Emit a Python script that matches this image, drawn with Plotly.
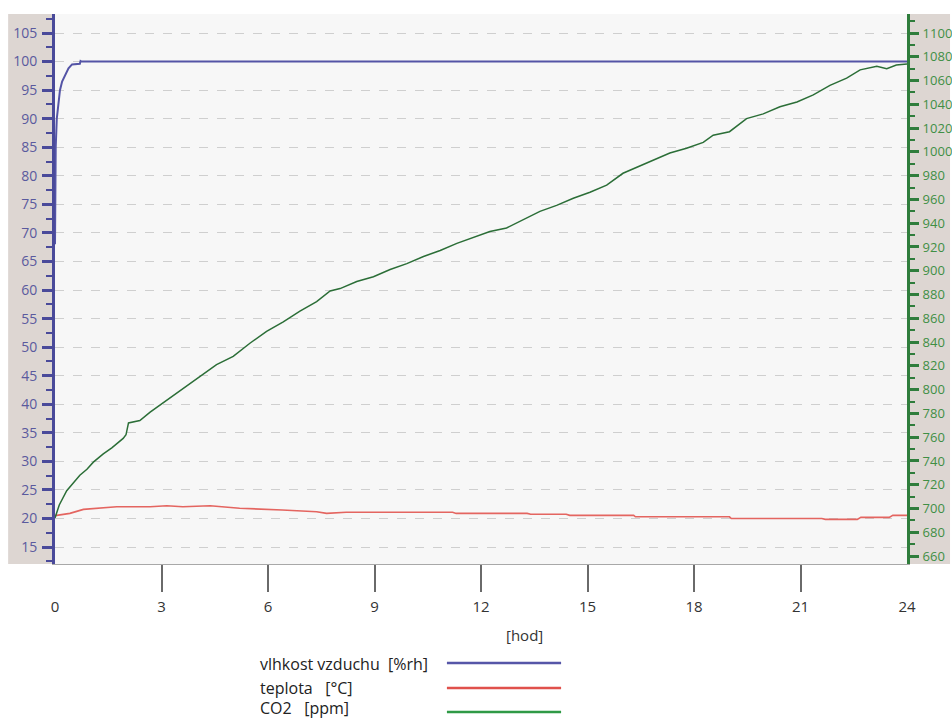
import plotly.graph_objects as go

# --- measured series -------------------------------------------------------
# relative humidity [%rh]
rh_t = [0.0, 0.02, 0.05, 0.1, 0.14, 0.2, 0.28, 0.38, 0.48, 0.6, 0.7, 0.72, 0.75, 24.0]
rh_v = [68.0, 85.0, 90.0, 93.0, 95.0, 96.5, 97.5, 98.8, 99.5, 99.6, 99.6, 100.1, 100.0, 100.0]

# temperature [°C]
temp_t = [0.0, 0.42, 0.8, 1.27, 1.74, 2.68, 3.15, 3.6, 4.37, 4.7, 5.2, 6.4, 7.37, 7.65,
          8.2, 9.7, 11.2, 11.3, 13.3, 13.4, 14.4, 14.5, 16.3, 16.35, 19.0, 19.05,
          21.6, 21.7, 22.6, 22.7, 23.5, 23.6, 24.0]
temp_v = [20.5, 20.9, 21.6, 21.9, 22.07, 22.07, 22.25, 22.07, 22.25, 22.07, 21.8, 21.5,
          21.2, 20.9, 21.1, 21.1, 21.1, 20.9, 20.9, 20.74, 20.74, 20.56, 20.56, 20.3,
          20.3, 20.0, 20.0, 19.86, 19.86, 20.2, 20.2, 20.56, 20.56]

# CO2 concentration [ppm]
co2_t = [0.0, 0.12, 0.33, 0.5, 0.7, 0.9, 1.08, 1.36, 1.6, 1.92, 2.0, 2.07, 2.39, 2.68,
         3.15, 3.62, 4.08, 4.55, 5.02, 5.49, 5.96, 6.43, 6.9, 7.37, 7.75, 8.03, 8.5,
         8.97, 9.44, 9.91, 10.38, 10.85, 11.32, 11.8, 12.25, 12.72, 13.19, 13.66,
         14.13, 14.6, 15.07, 15.54, 16.0, 16.38, 16.85, 17.32, 17.79, 18.26, 18.54,
         19.0, 19.48, 19.95, 20.42, 20.9, 21.36, 21.83, 22.3, 22.68, 23.15, 23.43,
         23.7, 24.0]
co2_v = [692, 703, 715, 721, 728, 733, 739, 746, 751, 759, 762, 772, 774, 781,
         791, 801, 811, 821, 828, 839, 849, 857, 866, 874, 883, 885, 891,
         895, 901, 906, 912, 917, 923, 928, 933, 936, 943, 950,
         955, 961, 966, 972, 982, 987, 993, 999, 1003, 1008, 1014,
         1017, 1028, 1032, 1038, 1042, 1048, 1056, 1062, 1069, 1072, 1070,
         1073, 1074]

hour_ticks = [0, 3, 6, 9, 12, 15, 18, 21, 24]
hour_marks = [3, 6, 9, 12, 15, 18, 21]

series_names = ["vlhkost vzduchu  [%rh]", "teplota   [°C]", "CO2   [ppm]"]
series_colors = ["#5656a8", "#e0514c", "#2f9a46"]

RH_COLOR = "#5454a6"
RH_AXIS = "#4a4a9a"
T_COLOR = "#e46560"
CO2_COLOR = "#2b6e37"
CO2_AXIS = "#2f7d3c"
PANEL = "#ddd6d2"
FONT = "Open Sans"

fig = go.Figure()
fig.add_trace(go.Scatter(x=rh_t, y=rh_v, mode="lines", line=dict(color=RH_COLOR, width=2),
                         name=series_names[0], showlegend=False))
fig.add_trace(go.Scatter(x=temp_t, y=temp_v, mode="lines", line=dict(color=T_COLOR, width=1.6),
                         name=series_names[1], showlegend=False))
fig.add_trace(go.Scatter(x=co2_t, y=co2_v, mode="lines", yaxis="y2",
                         line=dict(color=CO2_COLOR, width=1.5),
                         name=series_names[2], showlegend=False))
# empty carrier so the hour-label axis is rendered
fig.add_trace(go.Scatter(x=[hour_ticks[0], hour_ticks[-1]], y=[None, None], xaxis="x2",
                         mode="lines", hoverinfo="skip", showlegend=False))

# grey label panels beside the plot area
fig.add_shape(type="rect", xref="paper", yref="paper", x0=-0.055, x1=0, y0=0, y1=1,
              fillcolor=PANEL, line_width=0, layer="below")
fig.add_shape(type="rect", xref="paper", yref="paper", x0=1, x1=1.0505, y0=0, y1=1,
              fillcolor=PANEL, line_width=0, layer="below")

# legend drawn below the chart: text first, line sample to the right
leg_text_y = [-0.182, -0.2255, -0.262]
leg_line_y = [-0.180, -0.2255, -0.2691]
for name, col, ty, ly in zip(series_names, series_colors, leg_text_y, leg_line_y):
    fig.add_annotation(xref="paper", yref="paper", x=0.2383, y=ty, text=name,
                       showarrow=False, xanchor="left", yanchor="middle",
                       font=dict(family=FONT, size=16, color="#222222"))
    fig.add_shape(type="line", xref="paper", yref="paper", x0=0.46, x1=0.594, y0=ly, y1=ly,
                  line=dict(color=col, width=2.5))

fig.add_annotation(xref="paper", yref="paper", x=0.5516, y=-0.129, text="[hod]",
                   showarrow=False, xanchor="center", yanchor="middle",
                   font=dict(family=FONT, size=15, color="#333333"))

fig.update_layout(
    width=952, height=720,
    margin=dict(l=55, r=45, t=14, b=156, autoexpand=False),
    paper_bgcolor="white",
    plot_bgcolor="#f7f7f7",
    showlegend=False,
    xaxis=dict(
        range=[0, 24], tickvals=hour_marks, showticklabels=False, automargin=False,
        ticks="outside", ticklen=27, tickwidth=1.5, tickcolor="#6a6a6a",
        showline=True, linecolor="#a8a8a8", linewidth=1, showgrid=False, zeroline=False,
    ),
    xaxis2=dict(
        range=[0, 24], overlaying="x", anchor="y", side="bottom", automargin=False,
        tickvals=hour_ticks, ticktext=[str(h) for h in hour_ticks], ticks="",
        ticklabelstandoff=32, showline=False, showgrid=False, zeroline=False,
        tickfont=dict(family=FONT, size=15, color="#333333"),
    ),
    yaxis=dict(
        range=[12.04, 108.33], tick0=0, dtick=5, automargin=False,
        ticks="outside", ticklen=10, tickwidth=2.5, tickcolor=RH_AXIS,
        minor=dict(dtick=2.5, ticks="outside", ticklen=6, tickwidth=2, tickcolor=RH_AXIS,
                   showgrid=False),
        showline=True, linecolor=RH_AXIS, linewidth=3,
        showgrid=True, gridcolor="#cfcfcf", griddash="dash", gridwidth=1,
        zeroline=False, ticklabelstandoff=2,
        tickfont=dict(family=FONT, size=14, color="#5a5a9e"),
    ),
    yaxis2=dict(
        range=[653.3, 1116.0], tick0=0, dtick=20, overlaying="y", side="right",
        automargin=False,
        ticks="outside", ticklen=9, tickwidth=2.5, tickcolor=CO2_AXIS,
        minor=dict(dtick=10, ticks="outside", ticklen=5, tickwidth=2, tickcolor=CO2_AXIS,
                   showgrid=False),
        showline=True, linecolor=CO2_AXIS, linewidth=3, showgrid=False, zeroline=False,
        ticklabelstandoff=1,
        tickfont=dict(family=FONT, size=13, color="#3f8f45"),
    ),
)

fig.write_html("out.html")
